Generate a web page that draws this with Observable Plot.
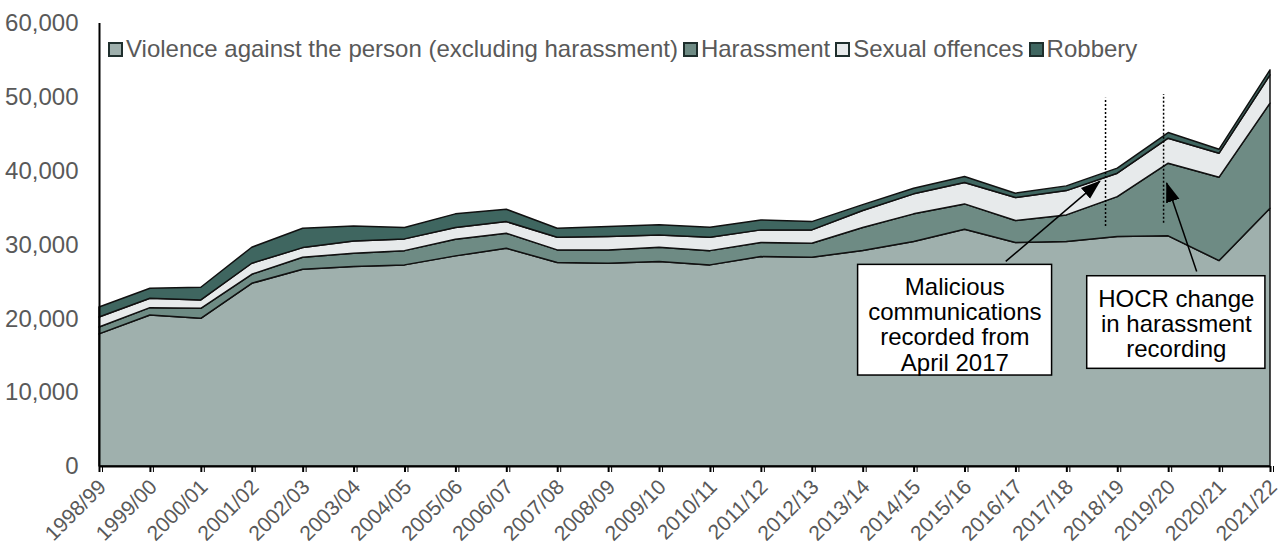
<!DOCTYPE html>
<html>
<head>
<meta charset="utf-8">
<script src="https://cdn.jsdelivr.net/npm/d3@7"></script>
<script src="https://cdn.jsdelivr.net/npm/@observablehq/plot@0.6"></script>
<style>
  html, body { margin: 0; padding: 0; background: #fff; }
  #wrap { position: relative; width: 1282px; height: 554px; font-family: "Liberation Sans", Arial, sans-serif; }
  #legend { position: absolute; top: 36px; left: 108px; font-size: 24px; line-height: 26px; color: #595959; white-space: nowrap; display: flex; align-items: center; }
  #legend .item { display: inline-flex; align-items: center; margin-right: 5px; }
  #legend .sw { display: inline-block; width: 11px; height: 11px; border: 2px solid #1f2f2d; margin-right: 3px; }
</style>
</head>
<body>
<div id="wrap"><div id="legend"></div></div>
<script>
const years = ["1998/99","1999/00","2000/01","2001/02","2002/03","2003/04","2004/05","2005/06","2006/07","2007/08","2008/09","2009/10","2010/11","2011/12","2012/13","2013/14","2014/15","2015/16","2016/17","2017/18","2018/19","2019/20","2020/21","2021/22"];
const violence   = [17890,20460,20010,24750,26650,27010,27240,28460,29500,27550,27460,27690,27240,28360,28270,29200,30400,32070,30260,30400,31070,31170,27820,34920];
const harassment = [940,990,1350,1220,1620,1810,1930,2260,2030,1720,1810,1940,1930,1900,1900,3100,3750,3430,2980,3610,5420,9840,11300,14230];
const sexual     = [1360,1270,1130,1490,1310,1670,1590,1570,1570,1720,1800,1670,1820,1720,1810,2300,2710,2890,3120,3290,3170,3390,3250,3830];
const robbery    = [1350,1360,1720,2170,2620,2030,1530,1860,1680,1210,1360,1360,1350,1350,1120,800,760,810,590,640,680,760,540,680];
const seriesNames = ["Violence against the person (excluding harassment)","Harassment","Sexual offences","Robbery"];
const seriesColors = ["#9fb0ad","#6e8b84","#e7eaeb","#3f6660"];
const yTicks = [0,10000,20000,30000,40000,50000,60000];

// annotations (in data coordinates: x = year index, y = offences)
const noteBoxes = [
  {x1:14.90, x2:18.71, y1:12320, y2:27310, cx:16.80, cy:19190, text:"Malicious\ncommunications\nrecorded from\nApril 2017"},
  {x1:19.40, x2:22.90, y1:13230, y2:25770, cx:21.15, cy:19320, text:"HOCR change\nin harassment\nrecording"}
];
const dividers = [
  {x:19.76, y1:32520, y2:49860},
  {x:20.90, y1:32930, y2:50400}
];
const arrows = [
  {x1:17.80, y1:27780, x2:19.65, y2:38660},
  {x1:21.55, y1:26420, x2:20.96, y2:38390}
];

const seriesValues = [violence, harassment, sexual, robbery];
const table = years.flatMap((yr, i) => seriesNames.map((s, k) => ({i, year: yr, series: s, value: seriesValues[k][i]})));

const chart = Plot.plot({
  width: 1282,
  height: 554,
  marginLeft: 99,
  marginRight: 12,
  marginTop: 23,
  marginBottom: 88,
  style: {fontFamily: "'Liberation Sans', Arial, sans-serif", background: "transparent"},
  x: {type: "linear", domain: [0, years.length - 1], axis: null},
  y: {domain: [0, 60000], axis: null},
  color: {domain: seriesNames, range: seriesColors},
  marks: [
    Plot.areaY(table, {x: "i", y: "value", z: "series", fill: "series", stroke: "#111", strokeWidth: 1.5, strokeLinejoin: "round"}),
    Plot.ruleY([0], {stroke: "black", strokeWidth: 2}),
    Plot.ruleX([0], {y1: 0, y2: 60000, stroke: "black", strokeWidth: 2}),
    Plot.axisX({ticks: d3.range(years.length), text: null, tickSize: 6, stroke: "black", strokeWidth: 2, label: null}),
    Plot.axisX({ticks: d3.range(years.length), tickFormat: i => years[i], tick: null, tickRotate: -45, tickSize: 6, tickPadding: 11, dx: 3, fontSize: 21, fill: "#595959", label: null}),
    Plot.axisY({ticks: yTicks, tickFormat: d3.format(","), tickSize: 0, tickPadding: 21, fontSize: 24, fill: "#595959", label: null}),
    Plot.ruleX(dividers, {x: "x", y1: "y1", y2: "y2", stroke: "black", strokeWidth: 1.5, strokeDasharray: "2,2"}),
    Plot.link(arrows, {x1: "x1", y1: "y1", x2: "x2", y2: "y2", stroke: "black", strokeWidth: 1.5}),
    Plot.rect(noteBoxes, {x1: "x1", x2: "x2", y1: "y1", y2: "y2", fill: "white", stroke: "black", strokeWidth: 1.5}),
    Plot.text(noteBoxes, {x: "cx", y: "cy", text: "text", fontSize: 24, fill: "black", lineHeight: 1.05})
  ]
});

// filled arrowheads
const svg = d3.select(chart);
svg.insert("defs", ":first-child").append("marker")
  .attr("id", "ahead").attr("viewBox", "0 -8 20 16").attr("refX", 19).attr("refY", 0)
  .attr("markerUnits", "userSpaceOnUse").attr("markerWidth", 20).attr("markerHeight", 16).attr("orient", "auto")
  .append("path").attr("d", "M0,-7L20,0L0,7Z").attr("fill", "black");
svg.selectAll("g[aria-label='link'] path").attr("marker-end", "url(#ahead)");

document.getElementById("wrap").prepend(chart);

const legend = d3.select("#legend");
seriesNames.forEach((s, k) => {
  const it = legend.append("span").attr("class", "item");
  it.append("span").attr("class", "sw").style("background", seriesColors[k]);
  it.append("span").text(s);
});
</script>
</body>
</html>
